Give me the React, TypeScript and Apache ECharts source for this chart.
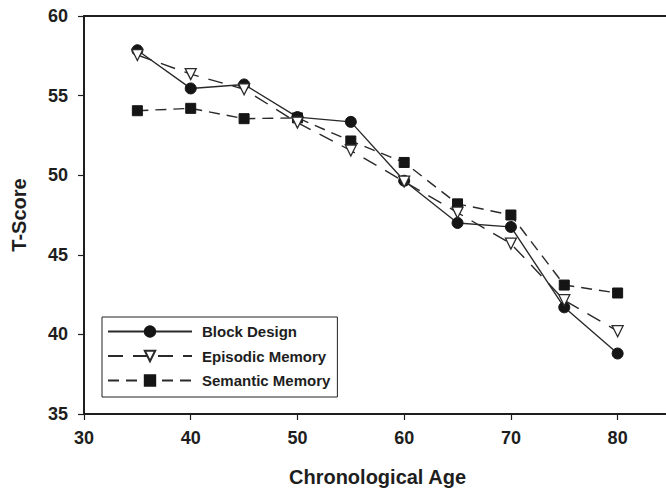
import React, { useEffect, useRef } from "react";
import * as echarts from "echarts";

const ages = [35, 40, 45, 50, 55, 60, 65, 70, 75, 80];
const blockDesign = [57.85, 55.45, 55.7, 53.65, 53.35, 49.65, 47.0, 46.75, 41.7, 38.8];
const episodicMemory = [57.55, 56.35, 55.4, 53.3, 51.55, 49.6, 47.65, 45.7, 42.15, 40.2];
const semanticMemory = [54.05, 54.2, 53.55, 53.6, 52.15, 50.8, 48.2, 47.5, 43.1, 42.6];

const FONT = "'Liberation Sans', Arial, sans-serif";
const INK = "#1e1e1e";

const pairs = (ys: number[]) => ages.map((a, i) => [a, ys[i]]);

export default function App() {
  const ref = useRef<HTMLDivElement>(null);
  useEffect(() => {
    if (!ref.current) return;
    const chart = echarts.init(ref.current, null, { renderer: "svg" });
    chart.setOption({
      animation: false,
      backgroundColor: "#fff",
      textStyle: { fontFamily: FONT },
      grid: {
        left: 84,
        right: 5,
        top: 16,
        bottom: 81,
      },
      legend: {
        orient: "vertical",
        left: 102,
        top: 317,
        padding: [7, 7, 9, 5],
        itemWidth: 84,
        itemHeight: 13,
        itemGap: 9.5,
        borderColor: "#222",
        borderWidth: 1,
        backgroundColor: "#fff",
        textStyle: {
          fontFamily: FONT,
          fontSize: 15,
          fontWeight: "bold",
          color: INK,
          lineHeight: 15,
          padding: [0, 0, 0, 5],
        },
        data: ["Block Design", "Episodic Memory", "Semantic Memory"],
      },
      xAxis: [
        {
          type: "value",
          min: 30,
          max: 85,
          interval: 10,
          name: "Chronological Age",
          nameLocation: "middle",
          nameGap: 53,
          nameTextStyle: { fontFamily: FONT, fontSize: 20, fontWeight: "bold", color: INK },
          axisLine: { show: true, lineStyle: { color: INK, width: 2 } },
          axisTick: { show: true, length: 6, lineStyle: { color: INK, width: 1.2 } },
          axisLabel: {
            margin: 15,
            fontFamily: FONT,
            fontSize: 18,
            fontWeight: "bold",
            color: INK,
            showMaxLabel: false,
            formatter: (v: number) => (v > 80 ? "" : String(v)),
          },
          splitLine: { show: false },
        },
        {
          type: "value",
          position: "top",
          min: 30,
          max: 85,
          interval: 10,
          axisLine: { show: true, lineStyle: { color: INK, width: 2 } },
          axisTick: { show: false },
          axisLabel: { show: false },
          splitLine: { show: false },
        },
      ],
      yAxis: {
        type: "value",
        min: 35,
        max: 60,
        interval: 5,
        name: "T-Score",
        nameLocation: "middle",
        nameGap: 55,
        nameTextStyle: { fontFamily: FONT, fontSize: 20, fontWeight: "bold", color: INK },
        axisLine: { show: true, lineStyle: { color: INK, width: 2 } },
        axisTick: { show: true, length: 6, lineStyle: { color: INK, width: 1.2 } },
        axisLabel: { margin: 16, fontFamily: FONT, fontSize: 18, fontWeight: "bold", color: INK },
        splitLine: { show: false },
      },
      series: [
        {
          name: "Block Design",
          type: "line",
          data: pairs(blockDesign),
          symbol: "circle",
          symbolSize: 11,
          z: 2,
          lineStyle: { color: "#2a2a2a", width: 1.4, type: "solid" },
          itemStyle: { color: "#151515", borderColor: "#151515", borderWidth: 1 },
        },
        {
          name: "Semantic Memory",
          type: "line",
          data: pairs(semanticMemory),
          symbol: "rect",
          symbolSize: 10,
          z: 3,
          lineStyle: { color: "#2a2a2a", width: 1.4, type: [11, 7] },
          itemStyle: { color: "#151515", borderColor: "#151515", borderWidth: 1 },
        },
        {
          name: "Episodic Memory",
          type: "line",
          data: pairs(episodicMemory),
          symbol: "triangle",
          symbolRotate: 180,
          symbolSize: 11,
          z: 4,
          lineStyle: { color: "#2a2a2a", width: 1.4, type: [15, 10] },
          itemStyle: { color: "#ffffff", borderColor: "#2a2a2a", borderWidth: 1.3 },
        },
      ],
    });
    return () => chart.dispose();
  }, []);
  return (
    <div
      style={{
        position: "absolute",
        left: 0,
        top: 0,
        width: 666,
        height: 495,
        overflow: "hidden",
      }}
    >
      <div ref={ref} style={{ width: 676, height: 495 }} />
    </div>
  );
}
